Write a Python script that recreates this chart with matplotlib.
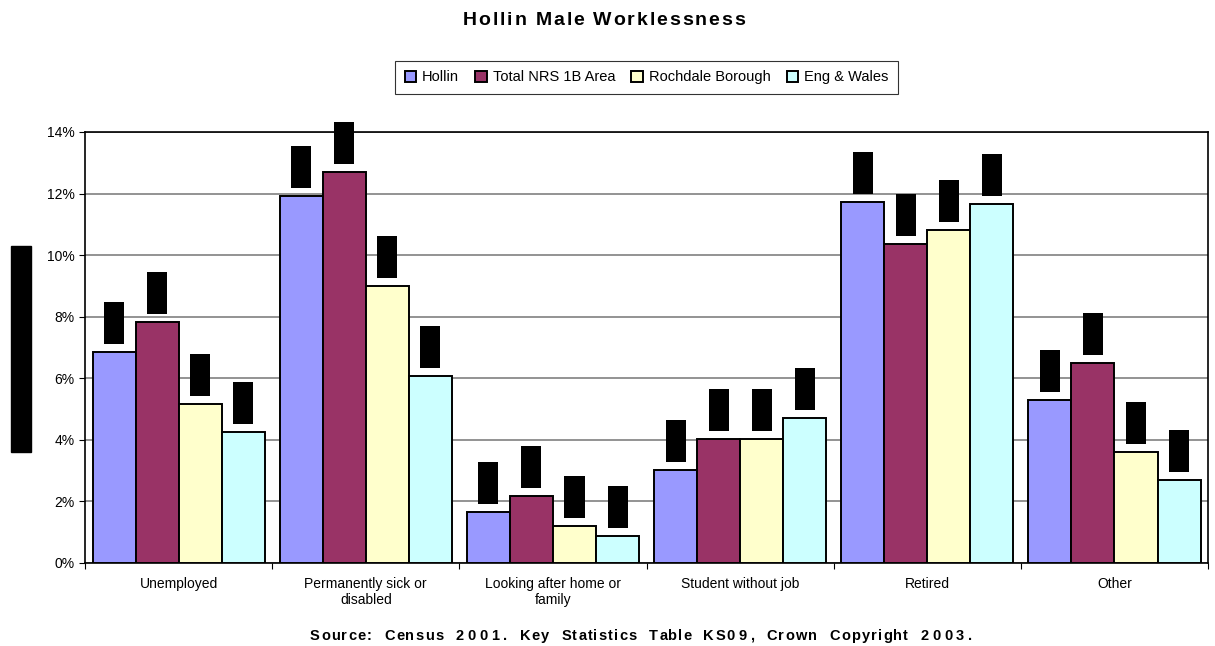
import numpy as np
import matplotlib
matplotlib.use("Agg")
from matplotlib import pyplot as plt
from matplotlib.patches import Rectangle
from matplotlib.font_manager import FontProperties

plt.rcParams['font.family'] = ['Liberation Sans', 'DejaVu Sans']

categories = ["Unemployed", "Permanently sick or\ndisabled", "Looking after home or\nfamily",
              "Student without job", "Retired", "Other"]
series = ["Hollin", "Total NRS 1B Area", "Rochdale Borough", "Eng & Wales"]
hollin = [6.85, 11.92, 1.66, 3.02, 11.72, 5.29]
nrs = [7.82, 12.70, 2.18, 4.03, 10.36, 6.49]
rochdale = [5.16, 9.00, 1.20, 4.03, 10.81, 3.60]
engwales = [4.25, 6.07, 0.88, 4.71, 11.66, 2.69]
colors = ["#9999ff", "#993366", "#ffffcc", "#ccffff"]

fig = plt.figure(figsize=(12.15, 6.46), dpi=100)
ax = fig.add_axes([0.070, 0.1285, 0.9243, 0.6672])


def spaced_text(s, xc, yc, size, target_px, track=None, digit_extra=0.0):
    # letter-spaced text spanning target_px; if track given, word spaces take the rest
    prop = FontProperties(family=['Liberation Sans', 'DejaVu Sans'], weight="bold", size=size)
    r = fig.canvas.get_renderer()
    wid = lambda t: r.get_text_width_height_descent(t, prop, ismath=False)[0] if t else 0
    if track is None:
        track = (target_px - wid(s)) / (len(s) - 1)
    gaps = [track + (digit_extra if ch.isdigit() else 0) for ch in s[:-1]]
    nsp = s.count(" ")
    space_extra = max(0, (target_px - wid(s) - sum(gaps)) / nsp) if nsp else 0
    x0 = xc * 1215 - target_px / 2
    off = 0
    for i, ch in enumerate(s):
        if ch != " ":
            fig.text((x0 + wid(s[:i]) + off) / 1215, yc, ch, fontproperties=prop,
                     ha="left", va="center")
        if i < len(s) - 1:
            off += gaps[i] + (space_extra if ch == " " else 0)


x = np.arange(len(categories))
w = 0.23
for i, (vals, c, name) in enumerate(zip([hollin, nrs, rochdale, engwales], colors, series)):
    pos = x + (i - 1.5) * w
    ax.bar(pos, vals, w, color=c, edgecolor="black", linewidth=1.4, label=name, zorder=3)
    # hidden data labels rendered as black blocks
    ax.bar(pos, [1.36] * len(vals), 0.107, bottom=np.array(vals) + 0.26, color="black",
           zorder=4, clip_on=False)

ax.set_xlim(-0.5, len(categories) - 0.5)
ax.set_ylim(0, 14)
ax.set_yticks(np.arange(0, 15, 2))
ax.set_yticklabels([f"{v}%" for v in range(0, 15, 2)], fontsize=10)
ax.yaxis.grid(True, color="#808080", linewidth=1.2, zorder=0)
ax.set_xticks(np.arange(-0.5, len(categories), 1))
ax.set_xticklabels([])
ax.set_xticks(x, minor=True)
ax.set_xticklabels(categories, minor=True, fontsize=10)
ax.tick_params(axis="x", which="minor", length=0, pad=10)
ax.tick_params(axis="x", which="major", length=4, direction="out")
ax.tick_params(axis="y", length=4, direction="out")
for s in ax.spines.values():
    s.set_color("black")
    s.set_linewidth(1.2)

leg = ax.legend(loc="lower center", bbox_to_anchor=(0.5, 1.072), ncol=4, fontsize=10.5,
                frameon=True, fancybox=False, edgecolor="black", handlelength=0.8,
                handleheight=0.8, handletextpad=0.4, columnspacing=1.1, borderpad=0.65)
leg.get_frame().set_linewidth(0.8)

spaced_text("Hollin Male Worklessness", 0.497, 0.968, 14, 282)
spaced_text("Source: Census 2001. Key Statistics Table KS09, Crown Copyright 2003.",
            0.5276, 0.016, 10.5, 662, 1.2, 2.5)
fig.patches.append(Rectangle((11 / 1215, 1 - 452 / 646), 20 / 1215, 206 / 646,
                             transform=fig.transFigure, color="black"))

fig.savefig("out.png", dpi=100)
